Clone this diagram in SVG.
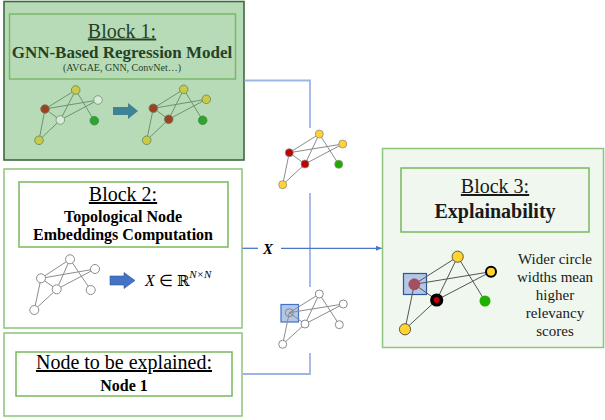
<svg xmlns="http://www.w3.org/2000/svg" width="605" height="420" viewBox="0 0 605 420">
  <style>
    text { font-family: "Liberation Serif", "Times New Roman", serif; }
    .title { font-family: "Liberation Serif", serif; font-size: 20px; text-decoration: underline; text-anchor: middle; }
    .bold { font-family: "Liberation Serif", serif; font-weight: bold; text-anchor: middle; }
    .note { font-family: "Liberation Serif", serif; font-size: 15px; text-anchor: middle; }
    .outer { fill: #ffffff; stroke: #8cc47a; stroke-width: 1.5; }
    .inner { fill: none; stroke: #7ab85f; stroke-width: 1.5; }
    .e1 { stroke: #6f9370; stroke-width: 1; fill: none; }
    .e2 { stroke: #8c8c8c; stroke-width: 1; fill: none; }
    .e3 { stroke: #555555; stroke-width: 1; fill: none; }
    .wire { stroke: #9db5e3; stroke-width: 1.8; fill: none; }
    .wire-x { stroke: #4a78c8; stroke-width: 1.3; fill: none; }
  </style>
  <defs>
    <marker id="tip" viewBox="0 0 10 10" refX="9" refY="5" markerWidth="5" markerHeight="5" orient="auto">
      <path d="M0,1 L10,5 L0,9 z" fill="#4a78c8"/>
    </marker>
  </defs>

  <!-- Block 1: regression model -->
  <g id="block1">
    <rect x="4" y="1.5" width="240" height="158.5" fill="#b7dbb7" stroke="#3f6a3f" stroke-width="1.6"/>
    <rect x="9.5" y="14" width="226" height="65" fill="none" stroke="#7bb86a" stroke-width="1.5"/>
    <g fill="#264226" font-family="Liberation Serif, serif">
      <text class="title" x="122" y="37.5">Block 1:</text>
      <text class="bold" x="122" y="57.5" font-size="17">GNN-Based Regression Model</text>
      <text x="122" y="71" font-size="10" text-anchor="middle" font-family="Liberation Serif, serif">(AVGAE, GNN, ConvNet…)</text>
    </g>
    <!-- input graph -->
    <g class="e1">
      <line x1="45" y1="109" x2="75.7" y2="90"/>
      <line x1="45" y1="109" x2="98" y2="100"/>
      <line x1="45" y1="109" x2="60.3" y2="120"/>
      <line x1="45" y1="109" x2="39" y2="140.3"/>
      <line x1="75.7" y1="90" x2="60.3" y2="120"/>
      <line x1="75.7" y1="90" x2="94.3" y2="120.7"/>
      <line x1="98" y1="100" x2="60.3" y2="120"/>
      <line x1="60.3" y1="120" x2="39" y2="140.3"/>
    </g>
    <g stroke="#6e7f5a" stroke-width="0.8">
      <circle cx="75.7" cy="90" r="4.3" fill="#c8cb45"/>
      <circle cx="98" cy="100" r="4.3" fill="#d8ecd8" stroke="#6f9370"/>
      <circle cx="45" cy="109" r="4.3" fill="#9b4225"/>
      <circle cx="60.3" cy="120" r="4.3" fill="#d8ecd8" stroke="#6f9370"/>
      <circle cx="94.3" cy="120.7" r="4.3" fill="#2ea52e" stroke="#3c8a3c"/>
      <circle cx="39" cy="140.3" r="4.3" fill="#c8cb45"/>
    </g>
    <!-- arrow -->
    <path d="M113,107 H128 V103 L138,111 L128,119 V115 H113 z" fill="#3f8196"/>
    <!-- output graph -->
    <g class="e1">
      <line x1="153.3" y1="108.3" x2="183.7" y2="89.3"/>
      <line x1="153.3" y1="108.3" x2="206.3" y2="99.3"/>
      <line x1="153.3" y1="108.3" x2="168.7" y2="119.3"/>
      <line x1="153.3" y1="108.3" x2="146.7" y2="140.3"/>
      <line x1="183.7" y1="89.3" x2="168.7" y2="119.3"/>
      <line x1="183.7" y1="89.3" x2="202.7" y2="120.3"/>
      <line x1="206.3" y1="99.3" x2="168.7" y2="119.3"/>
      <line x1="168.7" y1="119.3" x2="146.7" y2="140.3"/>
    </g>
    <g stroke="#6e7f5a" stroke-width="0.8">
      <circle cx="183.7" cy="89.3" r="4.3" fill="#c8cb45"/>
      <circle cx="206.3" cy="99.3" r="4.3" fill="#c8cb45"/>
      <circle cx="153.3" cy="108.3" r="4.3" fill="#9b4225"/>
      <circle cx="168.7" cy="119.3" r="4.3" fill="#9b4225"/>
      <circle cx="202.7" cy="120.3" r="4.3" fill="#2ea52e" stroke="#3c8a3c"/>
      <circle cx="146.7" cy="140.3" r="4.3" fill="#c8cb45"/>
    </g>
  </g>

  <!-- Block 2: topological embeddings -->
  <g id="block2">
    <rect class="outer" x="4" y="169" width="238" height="159"/>
    <rect class="inner" x="19" y="182" width="209" height="65"/>
    <g fill="#000000">
      <text class="title" x="123" y="201">Block 2:</text>
      <text class="bold" x="123" y="221.5" font-size="16">Topological Node</text>
      <text class="bold" x="123" y="240" font-size="16">Embeddings Computation</text>
    </g>
    <g class="e2">
      <line x1="41" y1="278.3" x2="70" y2="259.3"/>
      <line x1="41" y1="278.3" x2="95" y2="269"/>
      <line x1="41" y1="278.3" x2="56.7" y2="289.3"/>
      <line x1="41" y1="278.3" x2="34.3" y2="310"/>
      <line x1="70" y1="259.3" x2="56.7" y2="289.3"/>
      <line x1="70" y1="259.3" x2="90.7" y2="290"/>
      <line x1="95" y1="269" x2="56.7" y2="289.3"/>
      <line x1="56.7" y1="289.3" x2="34.3" y2="310"/>
    </g>
    <g fill="#ffffff" stroke="#7f7f7f" stroke-width="0.9">
      <circle cx="70" cy="259.3" r="4.5"/>
      <circle cx="95" cy="269" r="4.5"/>
      <circle cx="41" cy="278.3" r="4.5"/>
      <circle cx="56.7" cy="289.3" r="4.5"/>
      <circle cx="90.7" cy="290" r="4.5"/>
      <circle cx="34.3" cy="310" r="4.5"/>
    </g>
    <path d="M110,276 H124 V272.5 L135,280.5 L124,288.5 V285 H110 z" fill="#4472c4" stroke="#2f5597" stroke-width="0.6"/>
    <text x="145" y="285.5" font-size="16" fill="#000000" font-family="Liberation Serif, serif"><tspan font-style="italic">X</tspan> ∈ <tspan font-family="DejaVu Serif, serif" font-size="15">ℝ</tspan><tspan font-style="italic" font-size="11" dy="-8">N×N</tspan></text>
  </g>

  <!-- Node selection box -->
  <g id="node-select">
    <rect class="outer" x="4" y="333" width="238" height="83"/>
    <rect class="inner" x="16" y="352" width="216" height="44"/>
    <g fill="#000000">
      <text class="title" x="124" y="369">Node to be explained:</text>
      <text class="bold" x="124" y="390.5" font-size="16">Node 1</text>
    </g>
  </g>

  <!-- Block 3: explainability -->
  <g id="block3">
    <rect x="382.5" y="148.5" width="221" height="199" fill="#eff7ef" stroke="#8cc47a" stroke-width="1.5"/>
    <rect x="401" y="168" width="188" height="64" fill="none" stroke="#7ab85f" stroke-width="1.5"/>
    <g fill="#1a1a1a">
      <text class="title" x="495" y="193">Block 3:</text>
      <text class="bold" x="495" y="217.5" font-size="20">Explainability</text>
      <text class="note" x="555" y="263.5">Wider circle</text>
      <text class="note" x="555" y="281.5">widths mean</text>
      <text class="note" x="555" y="299.5">higher</text>
      <text class="note" x="555" y="317.5">relevancy</text>
      <text class="note" x="555" y="335.5">scores</text>
    </g>
    <rect x="403.5" y="273.5" width="23" height="21" fill="#b4c7e7" stroke="#2f5597" stroke-width="1.2"/>
    <g class="e3">
      <line x1="414.3" y1="284.3" x2="457.7" y2="256.7"/>
      <line x1="414.3" y1="284.3" x2="491" y2="271.7"/>
      <line x1="414.3" y1="284.3" x2="436.7" y2="300"/>
      <line x1="414.3" y1="284.3" x2="405" y2="329.3"/>
      <line x1="457.7" y1="256.7" x2="436.7" y2="300"/>
      <line x1="457.7" y1="256.7" x2="485" y2="301"/>
      <line x1="491" y1="271.7" x2="436.7" y2="300"/>
      <line x1="436.7" y1="300" x2="405" y2="329.3"/>
    </g>
    <circle cx="457.7" cy="256.7" r="5.6" fill="#ffd330" stroke="#3a3a3a" stroke-width="0.8"/>
    <circle cx="491" cy="271.7" r="5" fill="#ffd330" stroke="#000000" stroke-width="2"/>
    <circle cx="414.3" cy="284.3" r="5.5" fill="#a64f5e" stroke="#8a4050" stroke-width="0.6"/>
    <circle cx="436.7" cy="300" r="4.8" fill="#c00000" stroke="#000000" stroke-width="3.6"/>
    <circle cx="485" cy="301" r="5.5" fill="#22b000"/>
    <circle cx="405" cy="329.3" r="5.6" fill="#ffd330" stroke="#3a3a3a" stroke-width="0.8"/>
  </g>

  <!-- Intermediate graph: predicted node values -->
  <g id="graph-pred">
    <g class="e2">
      <line x1="289.3" y1="152.7" x2="319.3" y2="134"/>
      <line x1="289.3" y1="152.7" x2="342.7" y2="144"/>
      <line x1="289.3" y1="152.7" x2="305" y2="164"/>
      <line x1="289.3" y1="152.7" x2="282.7" y2="184.7"/>
      <line x1="319.3" y1="134" x2="305" y2="164"/>
      <line x1="319.3" y1="134" x2="338.7" y2="164.3"/>
      <line x1="342.7" y1="144" x2="305" y2="164"/>
      <line x1="305" y1="164" x2="282.7" y2="184.7"/>
    </g>
    <g stroke="#8c8c8c" stroke-width="0.8">
      <circle cx="319.3" cy="134" r="4" fill="#ffd330"/>
      <circle cx="342.7" cy="144" r="4" fill="#ffd330"/>
      <circle cx="289.3" cy="152.7" r="4" fill="#c00000"/>
      <circle cx="305" cy="164" r="4" fill="#c00000"/>
      <circle cx="338.7" cy="164.3" r="4" fill="#22aa00"/>
      <circle cx="282.7" cy="184.7" r="4" fill="#ffd330"/>
    </g>
  </g>

  <!-- Intermediate graph: selected node -->
  <g id="graph-select">
    <rect x="281" y="304.5" width="17.5" height="17.5" fill="#b4c7e7" stroke="#4472c4" stroke-width="1.2"/>
    <g class="e2">
      <line x1="289.3" y1="312.7" x2="319.3" y2="294"/>
      <line x1="289.3" y1="312.7" x2="343.3" y2="304"/>
      <line x1="289.3" y1="312.7" x2="305" y2="324"/>
      <line x1="289.3" y1="312.7" x2="282.7" y2="344.3"/>
      <line x1="319.3" y1="294" x2="305" y2="324"/>
      <line x1="319.3" y1="294" x2="339.3" y2="324.7"/>
      <line x1="343.3" y1="304" x2="305" y2="324"/>
      <line x1="305" y1="324" x2="282.7" y2="344.3"/>
    </g>
    <g fill="#ffffff" stroke="#7f7f7f" stroke-width="0.9">
      <circle cx="319.3" cy="294" r="4"/>
      <circle cx="343.3" cy="304" r="4"/>
      <circle cx="289.3" cy="312.7" r="4" fill="none"/>
      <circle cx="305" cy="324" r="4"/>
      <circle cx="339.3" cy="324.7" r="4"/>
      <circle cx="282.7" cy="344.3" r="4"/>
    </g>
  </g>

  <!-- Connectors -->
  <g id="connectors">
    <path class="wire" d="M244.5,80.5 H310 V128"/>
    <path class="wire" d="M310,193 V287"/>
    <path class="wire" d="M310,353 V374 H242.5"/>
    <path class="wire-x" d="M242.5,248.3 H258"/>
    <path class="wire-x" d="M281,248.3 H381.5" marker-end="url(#tip)"/>
    <text x="268" y="253.5" font-family="Liberation Serif, serif" font-size="15" font-weight="bold" font-style="italic" text-anchor="middle" fill="#000000">X</text>
  </g>
</svg>
